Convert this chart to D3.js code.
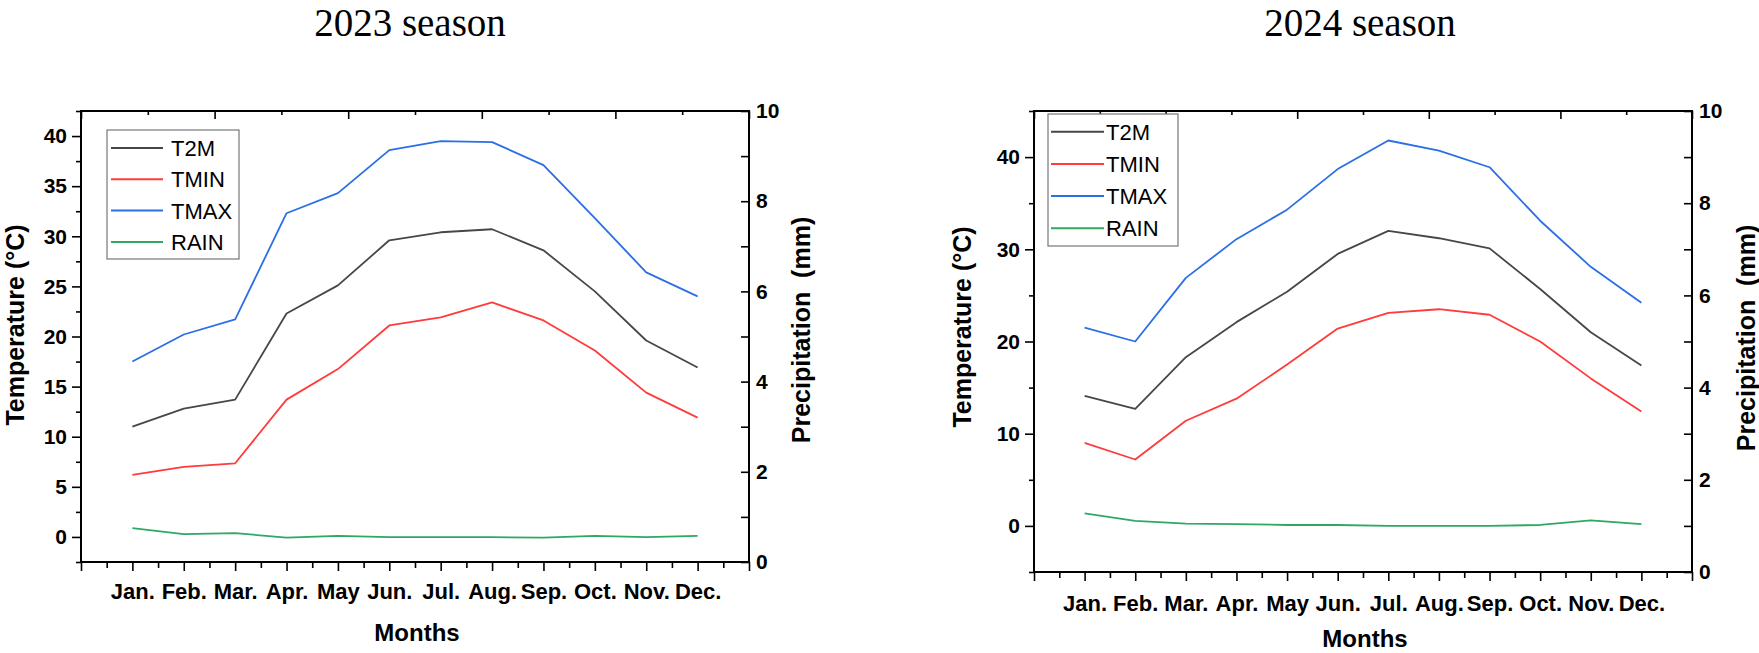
<!DOCTYPE html>
<html>
<head>
<meta charset="utf-8">
<script src="https://cdn.jsdelivr.net/npm/d3@7"></script>
<style>
  body { margin: 0; background: #fff; }
  svg { display: block; }
</style>
</head>
<body>
<div id="chart"></div>
<script>
// ---- data ----
var months = ["Jan.", "Feb.", "Mar.", "Apr.", "May", "Jun.", "Jul.", "Aug.", "Sep.", "Oct.", "Nov.", "Dec."];
var seriesNames = ["T2M", "TMIN", "TMAX", "RAIN"];

var t2m2023  = [11.0, 12.8, 13.7, 22.3, 25.1, 29.6, 30.4, 30.7, 28.6, 24.5, 19.6, 16.9];
var tmin2023 = [6.2, 7.0, 7.35, 13.7, 16.75, 21.1, 21.9, 23.4, 21.6, 18.6, 14.4, 11.9];
var tmax2023 = [17.5, 20.2, 21.7, 32.3, 34.3, 38.6, 39.5, 39.4, 37.1, 31.8, 26.4, 24.0];
var rain2023 = [0.75, 0.62, 0.64, 0.54, 0.58, 0.55, 0.55, 0.55, 0.54, 0.58, 0.55, 0.58];

var t2m2024  = [14.1, 12.7, 18.3, 22.1, 25.4, 29.5, 32.0, 31.2, 30.1, 25.7, 21.0, 17.4];
var tmin2024 = [9.0, 7.2, 11.4, 13.8, 17.5, 21.4, 23.1, 23.5, 22.9, 20.0, 16.0, 12.4];
var tmax2024 = [21.5, 20.0, 26.9, 31.1, 34.3, 38.7, 41.8, 40.7, 38.9, 33.1, 28.1, 24.2];
var rain2024 = [1.27, 1.11, 1.05, 1.04, 1.02, 1.02, 1.0, 1.0, 1.0, 1.02, 1.12, 1.04];

var tempTicks2023 = [0, 5, 10, 15, 20, 25, 30, 35, 40];
var tempTicks2024 = [0, 10, 20, 30, 40];
var precipTicks = [0, 2, 4, 6, 8, 10];

var colors = ["#474747", "#ff3b3b", "#2a6fe6", "#2ea862"];

var W = 1759, H = 653;
var svg = d3.select("#chart").append("svg").attr("width", W).attr("height", H);

var panels = [
  { title: "2023 season", titleX: 410, titleY: 36,
    x0: 81, x1: 749, y0: 111, y1: 562,
    tempDomain: [-2.5, 42.5], tempTicks: tempTicks2023, tempMinorStep: 2.5,
    series: [t2m2023, tmin2023, tmax2023, rain2023],
    legend: { x: 107, y: 130, w: 132, h: 129, row0: 148, step: 31.3, lx0: 111, lx1: 163, tx: 171 },
    yTitleX: 15, yTitleY: 325, pTitleX: 801, pTitleY: 330,
    monthY: 599, monthsY: 641, monthsX: 417 },
  { title: "2024 season", titleX: 1360, titleY: 36,
    x0: 1034, x1: 1692, y0: 111, y1: 572,
    tempDomain: [-5, 45], tempTicks: tempTicks2024, tempMinorStep: 5,
    series: [t2m2024, tmin2024, tmax2024, rain2024],
    legend: { x: 1048, y: 114, w: 130, h: 132, row0: 131.7, step: 32.2, lx0: 1051, lx1: 1104, tx: 1106 },
    yTitleX: 962, yTitleY: 327, pTitleX: 1746, pTitleY: 338,
    monthY: 611, monthsY: 647, monthsX: 1365 }
];

var bold = "'Liberation Sans', Arial, sans-serif";

function styleAxis(g, size) {
  g.select(".domain").remove();
  g.selectAll(".tick line").attr("stroke", "#000").attr("stroke-width", 1.6);
  g.selectAll(".tick text")
    .attr("fill", "#000")
    .style("font-family", bold)
    .style("font-weight", "bold")
    .style("font-size", size + "px");
}

panels.forEach(function(p) {
  var x = d3.scaleLinear().domain([0, 13]).range([p.x0, p.x1]);
  var xTop = d3.scaleLinear().domain([0, 10]).range([p.x0, p.x1]);
  var y = d3.scaleLinear().domain(p.tempDomain).range([p.y1, p.y0]);
  var y2 = d3.scaleLinear().domain([0, 10]).range([p.y1, p.y0]);

  // title
  svg.append("text")
    .attr("x", p.titleX).attr("y", p.titleY)
    .attr("text-anchor", "middle")
    .style("font-family", "'Liberation Serif', 'Times New Roman', serif")
    .style("font-size", "39px")
    .text(p.title);

  // left axis: minor then major
  var tmin = p.tempDomain[0], tmax = p.tempDomain[1];
  var minor = d3.range(tmin, tmax + 0.01, p.tempMinorStep)
    .filter(function(v) { return p.tempTicks.indexOf(v) < 0; });
  svg.append("g").attr("transform", "translate(" + p.x0 + ",0)")
    .call(d3.axisLeft(y).tickValues(minor).tickSize(5).tickFormat(""))
    .call(styleAxis, 21);
  svg.append("g").attr("transform", "translate(" + p.x0 + ",0)")
    .call(d3.axisLeft(y).tickValues(p.tempTicks).tickSize(9).tickPadding(5))
    .call(styleAxis, 21);

  // right axis (precipitation), ticks inward
  svg.append("g").attr("transform", "translate(" + p.x1 + ",0)")
    .call(d3.axisRight(y2).tickValues([1, 3, 5, 7, 9]).tickSizeInner(-8).tickFormat(""))
    .call(styleAxis, 21);
  svg.append("g").attr("transform", "translate(" + p.x1 + ",0)")
    .call(d3.axisRight(y2).tickValues(precipTicks).tickSizeInner(-8).tickPadding(7))
    .call(styleAxis, 21);

  // bottom axis
  svg.append("g").attr("transform", "translate(0," + p.y1 + ")")
    .call(d3.axisBottom(x).tickValues(d3.range(0.5, 13, 1)).tickSize(6).tickFormat(""))
    .call(styleAxis, 22);
  var xb = svg.append("g").attr("transform", "translate(0," + p.y1 + ")")
    .call(d3.axisBottom(x).tickValues(d3.range(0, 14, 1)).tickSize(9)
      .tickFormat(function(d) { return (d >= 1 && d <= 12) ? months[d - 1] : ""; }))
    .call(styleAxis, 22);
  xb.selectAll(".tick text").attr("y", null).attr("dy", null)
    .attr("transform", "translate(0," + (p.monthY - p.y1) + ")");

  // top axis, ticks inward
  svg.append("g").attr("transform", "translate(0," + p.y0 + ")")
    .call(d3.axisTop(xTop).tickValues([1, 3, 5, 7, 9]).tickSizeInner(-4).tickFormat(""))
    .call(styleAxis, 20);
  svg.append("g").attr("transform", "translate(0," + p.y0 + ")")
    .call(d3.axisTop(xTop).tickValues([0, 2, 4, 6, 8, 10]).tickSizeInner(-8).tickFormat(""))
    .call(styleAxis, 20);

  // frame
  svg.append("rect")
    .attr("x", p.x0).attr("y", p.y0)
    .attr("width", p.x1 - p.x0).attr("height", p.y1 - p.y0)
    .attr("fill", "none").attr("stroke", "#000").attr("stroke-width", 2);

  // lines
  p.series.forEach(function(vals, si) {
    var yy = si === 3 ? y2 : y;
    var line = d3.line()
      .x(function(d, i) { return x(i + 1); })
      .y(function(d) { return yy(d); });
    svg.append("path")
      .datum(vals)
      .attr("d", line)
      .attr("fill", "none")
      .attr("stroke", colors[si])
      .attr("stroke-width", 1.8)
      .attr("stroke-linejoin", "round");
  });

  // legend
  var L = p.legend;
  svg.append("rect")
    .attr("x", L.x).attr("y", L.y).attr("width", L.w).attr("height", L.h)
    .attr("fill", "#fff").attr("stroke", "#777").attr("stroke-width", 1.2);
  seriesNames.forEach(function(name, i) {
    var ry = L.row0 + i * L.step;
    svg.append("line")
      .attr("x1", L.lx0).attr("x2", L.lx1).attr("y1", ry).attr("y2", ry)
      .attr("stroke", colors[i]).attr("stroke-width", 2);
    svg.append("text")
      .attr("x", L.tx).attr("y", ry).attr("dy", "0.36em")
      .style("font-family", bold).style("font-size", "22px")
      .text(name);
  });

  // axis titles
  svg.append("text")
    .attr("transform", "translate(" + p.yTitleX + "," + p.yTitleY + ") rotate(-90)")
    .attr("text-anchor", "middle").attr("dy", "0.36em")
    .style("font-family", bold).style("font-weight", "bold").style("font-size", "25px")
    .text("Temperature (°C)");
  svg.append("text")
    .attr("transform", "translate(" + p.pTitleX + "," + p.pTitleY + ") rotate(-90)")
    .attr("text-anchor", "middle").attr("dy", "0.36em")
    .style("font-family", bold).style("font-weight", "bold").style("font-size", "25px")
    .text("Precipitation\u00a0\u00a0(mm)");
  svg.append("text")
    .attr("x", p.monthsX).attr("y", p.monthsY)
    .attr("text-anchor", "middle")
    .style("font-family", bold).style("font-weight", "bold").style("font-size", "24px")
    .text("Months");
});
</script>
</body>
</html>
